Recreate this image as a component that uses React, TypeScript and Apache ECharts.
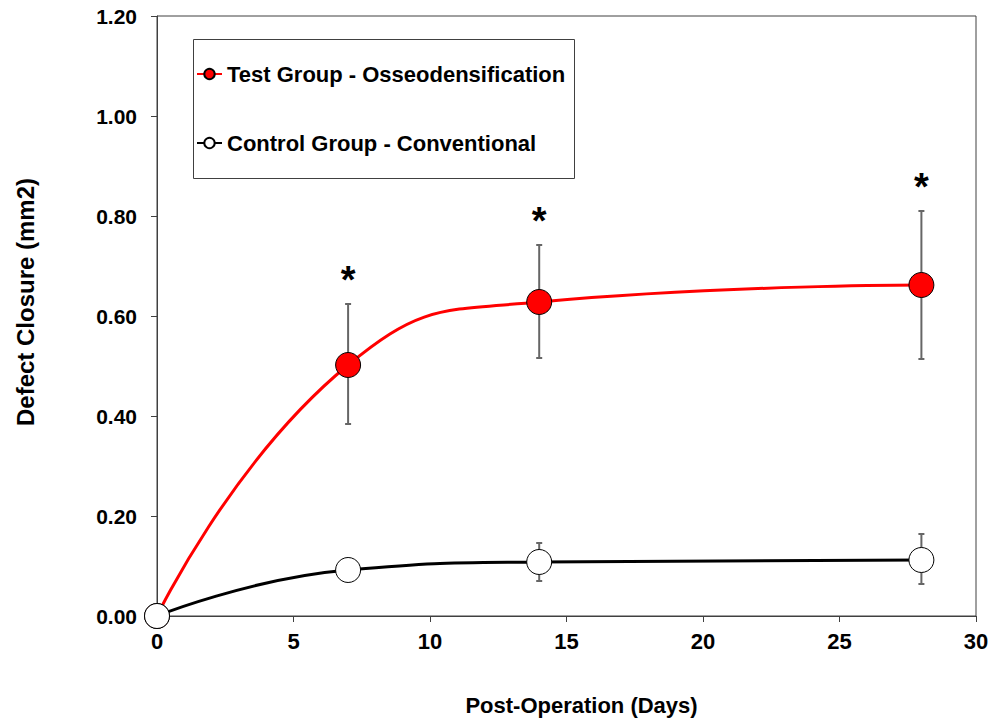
import React, { useEffect, useRef } from "react";
import * as echarts from "echarts";

const days = [0, 7, 14, 28];
const testMean = [0, 0.502, 0.628, 0.662];
const testLow = [0, 0.384, 0.516, 0.514];
const testHigh = [0, 0.624, 0.742, 0.81];
const ctrlMean = [0, 0.092, 0.108, 0.112];
const ctrlLow = [0, 0.072, 0.07, 0.064];
const ctrlHigh = [0, 0.11, 0.146, 0.164];
const significant = [0, 1, 1, 1];
const xTicks = [0, 5, 10, 15, 20, 25, 30];
const yTicks = [0, 0.2, 0.4, 0.6, 0.8, 1.0, 1.2];
const seriesNames = ["Test Group - Osseodensification", "Control Group - Conventional"];
const axisNames = { x: "Post-Operation (Days)", y: "Defect Closure (mm2)" };

const FONT = 'Arial, "Liberation Sans", sans-serif';

export default function App() {
  const ref = useRef<HTMLDivElement>(null);
  useEffect(() => {
    if (!ref.current) return;
    const chart = echarts.init(ref.current, null, { renderer: "svg" });
    const errData = (low: number[], high: number[], star: number[] | null) =>
      days.slice(1).map((d, i) => [d, low[i + 1], high[i + 1], star ? star[i + 1] : 0]);
    const renderErr = (params: any, api: any) => {
      const x = api.value(0);
      const lo = api.coord([x, api.value(1)]);
      const hi = api.coord([x, api.value(2)]);
      const cw = 3;
      const style = { stroke: "#666666", lineWidth: 2 };
      const children: any[] = [
        { type: "line", shape: { x1: lo[0], y1: lo[1], x2: hi[0], y2: hi[1] }, style },
        { type: "line", shape: { x1: hi[0] - cw, y1: hi[1], x2: hi[0] + cw, y2: hi[1] }, style },
        { type: "line", shape: { x1: lo[0] - cw, y1: lo[1], x2: lo[0] + cw, y2: lo[1] }, style },
      ];
      if (api.value(3) === 1) {
        children.push({
          type: "text",
          x: hi[0],
          y: hi[1] - 24,
          style: {
            text: "*",
            fontSize: 38,
            fontWeight: "bold",
            fontFamily: FONT,
            fill: "#000",
            align: "center",
            verticalAlign: "middle",
          },
        });
      }
      return { type: "group", children };
    };
    const option: any = {
      animation: false,
      textStyle: { fontFamily: FONT },
      grid: {
        left: 157,
        right: 16,
        top: 16,
        bottom: 105,
        show: true,
        borderColor: "#404040",
        borderWidth: 1,
        backgroundColor: "transparent",
      },
      legend: {
        orient: "vertical",
        left: 191,
        top: 58,
        itemGap: 47,
        itemWidth: 25,
        itemHeight: 13,
        data: seriesNames,
        textStyle: { fontSize: 22, fontWeight: "bold", color: "#000", fontFamily: FONT },
      },
      graphic: [
        {
          type: "rect",
          left: 191,
          top: 37,
          shape: { x: 0, y: 0, width: 381, height: 139 },
          style: { fill: "none", stroke: "#404040", lineWidth: 1 },
          z: 0,
        },
      ],
      xAxis: {
        type: "value",
        min: xTicks[0],
        max: xTicks[xTicks.length - 1],
        interval: 5,
        name: axisNames.x,
        nameLocation: "middle",
        nameGap: 78,
        nameTextStyle: {
          fontSize: 22,
          fontWeight: "bold",
          color: "#000",
          fontFamily: FONT,
          padding: [0, 0, 0, 30],
        },
        axisLine: { lineStyle: { color: "#404040", width: 1 } },
        axisTick: { show: true, inside: false, length: 6, lineStyle: { color: "#404040" } },
        axisLabel: { fontSize: 22, fontWeight: "bold", color: "#000", margin: 14, fontFamily: FONT },
        splitLine: { show: false },
      },
      yAxis: {
        type: "value",
        min: yTicks[0],
        max: yTicks[yTicks.length - 1],
        interval: 0.2,
        name: axisNames.y,
        nameLocation: "middle",
        nameGap: 120,
        nameTextStyle: {
          fontSize: 24,
          fontWeight: "bold",
          color: "#000",
          fontFamily: FONT,
          padding: [0, 0, 0, 28],
        },
        axisLine: { show: true, lineStyle: { color: "#404040", width: 1 } },
        axisTick: { show: true, inside: false, length: 6, lineStyle: { color: "#404040" } },
        axisLabel: {
          fontSize: 21,
          fontWeight: "bold",
          color: "#000",
          margin: 20,
          fontFamily: FONT,
          formatter: (v: number) => v.toFixed(2),
        },
        splitLine: { show: false },
      },
      series: [
        {
          type: "custom",
          name: "errTest",
          renderItem: renderErr,
          data: errData(testLow, testHigh, significant),
          z: 1,
          silent: true,
          clip: false,
        },
        {
          type: "custom",
          name: "errCtrl",
          renderItem: renderErr,
          data: errData(ctrlLow, ctrlHigh, null),
          z: 1,
          silent: true,
          clip: false,
        },
        {
          type: "line",
          name: seriesNames[0],
          data: days.map((d, i) => [d, testMean[i]]),
          smooth: 0.5,
          symbol: "circle",
          symbolSize: 25,
          lineStyle: { color: "#ff0000", width: 3 },
          itemStyle: { color: "#ff0000", borderColor: "#000", borderWidth: 1 },
          z: 2,
          clip: false,
        },
        {
          type: "line",
          name: seriesNames[1],
          data: days.map((d, i) => [d, ctrlMean[i]]),
          smooth: 0.5,
          symbol: "circle",
          symbolSize: 25,
          lineStyle: { color: "#000000", width: 3 },
          itemStyle: { color: "#ffffff", borderColor: "#000", borderWidth: 1 },
          z: 3,
          clip: false,
        },
      ],
    };
    chart.setOption(option);
    return () => chart.dispose();
  }, []);
  return <div ref={ref} style={{ width: 992, height: 721, position: "absolute", left: 0, top: 0 }} />;
}
